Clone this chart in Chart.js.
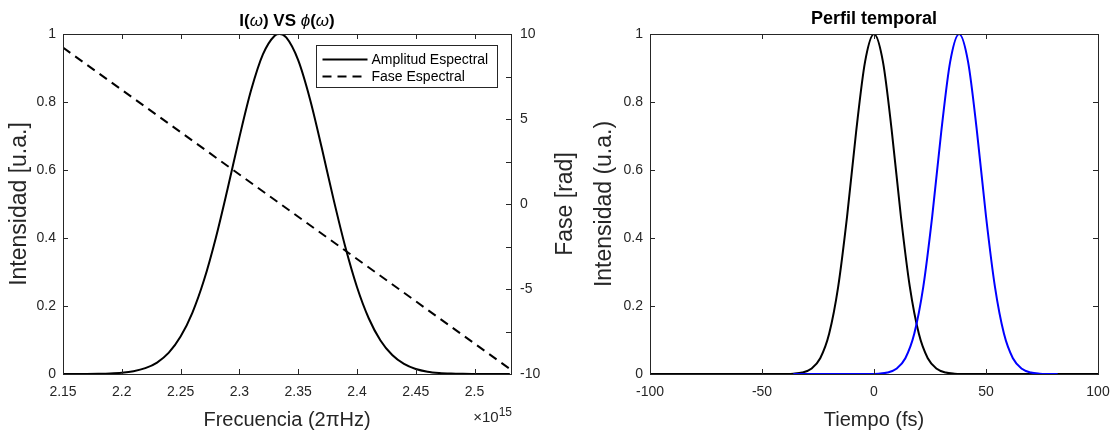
<!DOCTYPE html>
<html>
<head>
<meta charset="utf-8">
<script src="https://cdn.jsdelivr.net/npm/chart.js@4"></script>
<style>
  html, body { margin: 0; padding: 0; background: #fff; }
  #wrap { position: relative; width: 1116px; height: 436px; }
  #c1 { position: absolute; left: 0; top: 0; }
  #c2 { position: absolute; left: 580px; top: 0; }
</style>
</head>
<body>
<div id="wrap">
  <canvas id="c1" width="580" height="436"></canvas>
  <canvas id="c2" width="536" height="436"></canvas>
</div>
<script>
// espectro (frecuencia en unidades de 1e15)
const freq = [2.15, 2.16, 2.17, 2.18, 2.19, 2.20, 2.21, 2.22, 2.23, 2.24, 2.25, 2.26, 2.27, 2.28, 2.29, 2.30,
  2.31, 2.32, 2.33, 2.334, 2.34, 2.35, 2.36, 2.37, 2.38, 2.39, 2.40, 2.41, 2.42, 2.43, 2.44, 2.45, 2.46,
  2.47, 2.48, 2.49, 2.50, 2.51, 2.52, 2.53]
const amplitud = [0, 0.0001, 0.0002, 0.0006, 0.0015, 0.0036, 0.0081, 0.0171, 0.0337, 0.0628, 0.110, 0.180,
  0.277, 0.401, 0.545, 0.696, 0.835, 0.940, 0.995, 1, 0.989, 0.923, 0.809, 0.666, 0.515, 0.375, 0.256,
  0.164, 0.0986, 0.0557, 0.0296, 0.0148, 0.0069, 0.0031, 0.0013, 0.0005, 0.0002, 0, 0, 0]
const faseFreq = [2.15, 2.531]
const fase = [9.2, -9.75]

// perfil temporal
const tNegro = [-100, -44, -40, -36, -32, -28, -24, -20, -16, -12, -8, -4, 0, 4, 8, 12, 16, 20, 24, 28, 32, 36, 40, 44, 100]
const iNegro = [0, 0, 0.0002, 0.0010, 0.0043, 0.0153, 0.0465, 0.119, 0.256, 0.464, 0.711, 0.918, 1,
  0.918, 0.711, 0.464, 0.256, 0.119, 0.0465, 0.0153, 0.0043, 0.0010, 0.0002, 0, 0]
const tAzul = [-36, -2, 2, 6, 10, 14, 18, 22, 26, 30, 34, 38, 42, 46, 50, 54, 58, 62, 66, 70, 74, 78, 82]
const iAzul = [0, 0, 0.0010, 0.0043, 0.0153, 0.0465, 0.119, 0.256, 0.464, 0.711, 0.918, 1, 0.918,
  0.711, 0.464, 0.256, 0.119, 0.0465, 0.0153, 0.0043, 0.0010, 0.0002, 0]

const freqTicks = [2.15, 2.2, 2.25, 2.3, 2.35, 2.4, 2.45, 2.5]
const freqLabels = ['2.15', '2.2', '2.25', '2.3', '2.35', '2.4', '2.45', '2.5']
const intTicks = [0, 0.2, 0.4, 0.6, 0.8, 1]
const intLabels = ['0', '0.2', '0.4', '0.6', '0.8', '1']
const faseTicks = [-10, -7.5, -5, -2.5, 0, 2.5, 5, 7.5, 10]
const faseLabels = ['-10', '', '-5', '', '0', '', '5', '', '10']
const tTicks = [-100, -50, 0, 50, 100]
const tLabels = ['-100', '-50', '0', '50', '100']

const FONT = '"Liberation Sans", Arial, Helvetica, sans-serif'
const AX = '#262626'

function pts(xs, ys) { return xs.map((x, i) => ({x: x, y: ys[i]})) }

function axis(opts) {
    return {
        type: 'linear',
        position: opts.position,
        min: opts.min,
        max: opts.max,
        grid: {display: false, drawTicks: false},
        border: {display: false},
        afterBuildTicks: (s) => { s.ticks = opts.vals.map(v => ({value: v})) },
        afterFit: (s) => {
            if (s.isHorizontal()) {
                s.height = opts.size
                s.paddingLeft = 0
                s.paddingRight = 0
            } else {
                s.width = opts.size
                s.paddingTop = 0
                s.paddingBottom = 0
            }
        },
        ticks: {
            color: AX,
            font: {family: FONT, size: 14},
            padding: opts.tickPad,
            autoSkip: false,
            maxRotation: 0,
            callback: (v, i) => opts.labels[i]
        },
        title: {
            display: !!opts.title,
            text: opts.title,
            color: AX,
            font: {family: FONT, size: opts.titleSize || 20},
            padding: opts.titlePad || {top: 0, bottom: 0}
        }
    }
}

// caja estilo matlab con marcas hacia dentro
const boxPlugin = {
    id: 'box',
    afterDatasetsDraw(chart, args, opts) {
        const {ctx, chartArea: a} = chart
        const L = 5
        ctx.save()
        ctx.strokeStyle = AX
        ctx.lineWidth = 1
        ctx.beginPath()
        Object.values(chart.scales).forEach(s => {
            s.ticks.forEach(t => {
                const p = Math.round(s.getPixelForValue(t.value)) + 0.5
                if (s.isHorizontal()) {
                    ctx.moveTo(p, a.bottom); ctx.lineTo(p, a.bottom - L)
                    ctx.moveTo(p, a.top); ctx.lineTo(p, a.top + L)
                } else if (s.position === 'left') {
                    ctx.moveTo(a.left, p); ctx.lineTo(a.left + L, p)
                    if (opts.mirrorY) { ctx.moveTo(a.right, p); ctx.lineTo(a.right - L, p) }
                } else {
                    ctx.moveTo(a.right, p); ctx.lineTo(a.right - L, p)
                }
            })
        })
        ctx.stroke()
        ctx.strokeRect(Math.round(a.left) + 0.5, Math.round(a.top) + 0.5,
            Math.round(a.right - a.left), Math.round(a.bottom - a.top))
        ctx.restore()
    }
}

// titulo con partes en cursiva
const titlePlugin = {
    id: 'richTitle',
    afterDraw(chart, args, opts) {
        if (!opts.parts) return
        const {ctx, chartArea: a} = chart
        ctx.save()
        ctx.fillStyle = '#000'
        ctx.textAlign = 'left'
        ctx.textBaseline = 'alphabetic'
        const fonts = opts.parts.map(p => (p[1] === 'i' ? 'italic ' : 'bold ') + opts.size + 'px ' + FONT)
        let w = 0
        opts.parts.forEach((p, i) => { ctx.font = fonts[i]; w += ctx.measureText(p[0]).width })
        let x = (a.left + a.right) / 2 - w / 2
        opts.parts.forEach((p, i) => {
            ctx.font = fonts[i]
            ctx.fillText(p[0], x, opts.y)
            x += ctx.measureText(p[0]).width
        })
        ctx.restore()
    }
}

const extrasPlugin = {
    id: 'extras',
    afterDraw(chart, args, opts) {
        const {ctx, chartArea: a} = chart
        ctx.save()
        if (opts.exponent) {
            ctx.fillStyle = AX
            ctx.textAlign = 'right'
            ctx.textBaseline = 'alphabetic'
            ctx.font = '12px ' + FONT
            ctx.fillText('15', a.right + 1, a.bottom + 42)
            const w15 = ctx.measureText('15').width
            ctx.font = '15px ' + FONT
            ctx.fillText('\u00d710', a.right + 1 - w15, a.bottom + 48)
        }
        if (opts.rightTitle) {
            ctx.fillStyle = AX
            ctx.textAlign = 'center'
            ctx.textBaseline = 'middle'
            ctx.font = '23px ' + FONT
            ctx.translate(opts.rightTitleX, (a.top + a.bottom) / 2)
            ctx.rotate(-Math.PI / 2)
            ctx.fillText(opts.rightTitle, 0, 0)
            ctx.setTransform(1, 0, 0, 1, 0, 0)
        }
        if (opts.legend) {
            const bw = 181, bh = 42
            const bx = Math.round(a.right - 14 - bw) + 0.5
            const by = Math.round(a.top + 11) + 0.5
            ctx.fillStyle = '#fff'
            ctx.fillRect(bx, by, bw, bh)
            ctx.strokeStyle = AX
            ctx.lineWidth = 1
            ctx.strokeRect(bx, by, bw, bh)
            ctx.font = '14px ' + FONT
            ctx.textAlign = 'left'
            ctx.textBaseline = 'middle'
            chart.data.datasets.forEach((ds, i) => {
                const y = by + 14 + i * 17
                ctx.beginPath()
                ctx.strokeStyle = ds.borderColor
                ctx.lineWidth = 2
                ctx.setLineDash(ds.borderDash || [])
                ctx.moveTo(bx + 6, y)
                ctx.lineTo(bx + 51, y)
                ctx.stroke()
                ctx.setLineDash([])
                ctx.fillStyle = '#000'
                ctx.fillText(ds.label, bx + 55, y + 1)
            })
        }
        ctx.restore()
    }
}

Chart.register(boxPlugin, titlePlugin, extrasPlugin)

new Chart(document.getElementById('c1'), {
    type: 'line',
    data: {
        datasets: [{
            label: 'Amplitud Espectral',
            data: pts(freq, amplitud),
            borderColor: '#000',
            borderWidth: 2,
            pointRadius: 0,
            cubicInterpolationMode: 'monotone',
            yAxisID: 'y'
        }, {
            label: 'Fase Espectral',
            data: pts(faseFreq, fase),
            borderColor: '#000',
            borderWidth: 2,
            borderDash: [9, 6],
            pointRadius: 0,
            yAxisID: 'y2'
        }]
    },
    options: {
        responsive: false,
        animation: false,
        devicePixelRatio: 1,
        layout: {padding: {top: 34, right: 0, left: 0, bottom: 0}},
        scales: {
            x: axis({position: 'bottom', min: 2.15, max: 2.531, vals: freqTicks, labels: freqLabels,
                size: 62, tickPad: 10, title: 'Frecuencia (2\u03c0Hz)', titlePad: {top: 0, bottom: 4}}),
            y: axis({position: 'left', min: 0, max: 1, vals: intTicks, labels: intLabels,
                size: 63, tickPad: 7, title: 'Intensidad [u.a.]', titleSize: 23, titlePad: {top: 6, bottom: 0}}),
            y2: axis({position: 'right', min: -10, max: 10, vals: faseTicks, labels: faseLabels,
                size: 69, tickPad: 9})
        },
        plugins: {
            legend: {display: false},
            tooltip: {enabled: false},
            box: {mirrorY: false},
            richTitle: {size: 17, y: 26, parts: [['I(', 'b'], ['\u03c9', 'i'], [') VS ', 'b'],
                ['\u03d5', 'i'], ['(', 'b'], ['\u03c9', 'i'], [')', 'b']]},
            extras: {exponent: true, legend: true, rightTitle: 'Fase [rad]', rightTitleX: 566}
        }
    }
})

new Chart(document.getElementById('c2'), {
    type: 'line',
    data: {
        datasets: [{
            label: 'azul',
            data: pts(tAzul, iAzul),
            borderColor: '#0000ff',
            borderWidth: 2,
            pointRadius: 0,
            cubicInterpolationMode: 'monotone'
        }, {
            label: 'negro',
            data: pts(tNegro, iNegro),
            borderColor: '#000',
            borderWidth: 2,
            pointRadius: 0,
            cubicInterpolationMode: 'monotone'
        }]
    },
    options: {
        responsive: false,
        animation: false,
        devicePixelRatio: 1,
        layout: {padding: {top: 34, right: 18, left: 0, bottom: 0}},
        scales: {
            x: axis({position: 'bottom', min: -100, max: 100, vals: tTicks, labels: tLabels,
                size: 62, tickPad: 10, title: 'Tiempo (fs)', titlePad: {top: 0, bottom: 4}}),
            y: axis({position: 'left', min: 0, max: 1, vals: intTicks, labels: intLabels,
                size: 70, tickPad: 7, title: 'Intensidad (u.a.)', titleSize: 23, titlePad: {top: 11, bottom: 0}})
        },
        plugins: {
            legend: {display: false},
            tooltip: {enabled: false},
            box: {mirrorY: true},
            richTitle: {size: 18, y: 24, parts: [['Perfil temporal', 'b']]},
            extras: {}
        }
    }
})
</script>
</body>
</html>
